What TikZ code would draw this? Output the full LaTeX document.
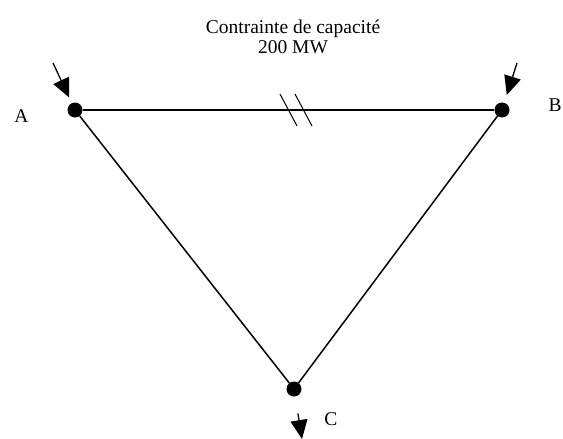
\documentclass[tikz,border=0pt]{standalone}
\usepackage{fontspec}
\setmainfont{Liberation Serif}
\usetikzlibrary{arrows.meta,positioning,calc}

\begin{document}
\begin{tikzpicture}[x=1pt, y=-1pt, font=\fontsize{19.5}{23}\selectfont,
  bus/.style={circle, fill=black, minimum size=15pt, inner sep=0pt},
  line/.style={black, line width=1.5pt},
  flow/.style={black, line width=1.3pt, -{Triangle[length=19pt, width=17pt]}},
  tick/.style={black, line width=1pt}]
  \useasboundingbox (0,0) rectangle (563,439);
  % buses of the triangular network
  \node[bus] (A) at (75,110) {};
  \node[bus] (B) at (502,110) {};
  \node[bus] (C) at (294,389) {};
  \node (la) at (21.5,116) {A};
  \node (lb) at (555,105) {B};
  \node (lc) at (331,419) {C};
  % lines
  \draw[line] (A) -- (B);
  \draw[line] (A) -- (C);
  \draw[line] (B) -- (C);
  % capacity constraint mark on line A-B
  \coordinate (mid) at ($(A)!0.5!(B)$);
  \draw[tick] ($(mid)+(-8.5,-16)$) -- ($(mid)+(8.5,16)$);
  \draw[tick] ($(mid)+(6.5,-16)$) -- ($(mid)+(23.5,16)$);
  \node[align=center] (cap) at (293,37) {Contrainte de capacité\\[-3pt]200 MW};
  % injections and withdrawal
  \coordinate (ina) at (53,63);
  \coordinate (inb) at (517,63);
  \coordinate (outc) at (302,439);
  \draw[flow, shorten >=6pt] (ina) -- (A);
  \draw[flow, shorten >=8pt] (inb) -- (B);
  \draw[flow, shorten <=17pt] (C) -- (outc);
\end{tikzpicture}
\end{document}
